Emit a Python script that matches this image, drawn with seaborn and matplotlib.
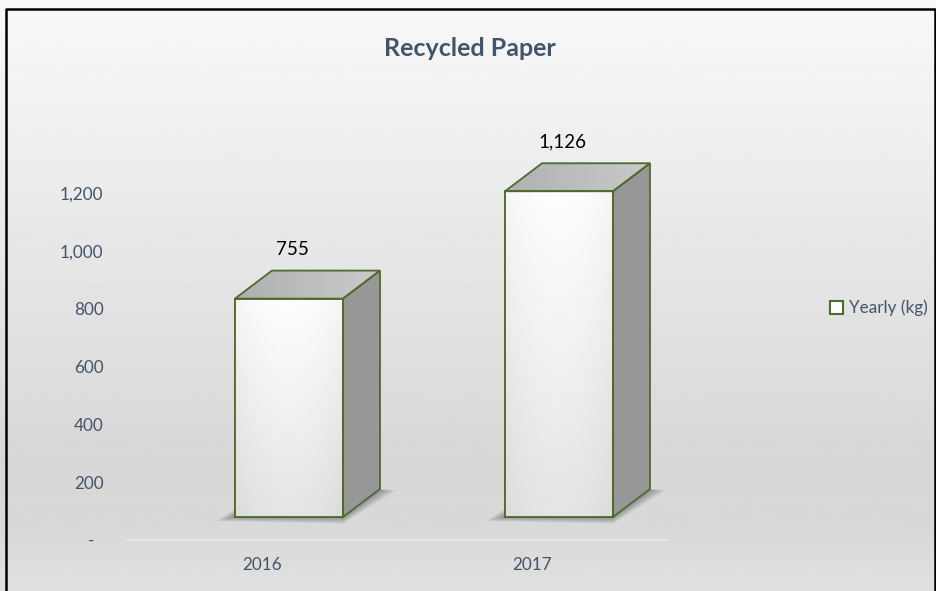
import numpy as np
import pandas as pd
import matplotlib
matplotlib.use("Agg")
import matplotlib.pyplot as plt
import matplotlib.transforms as mtransforms
from matplotlib.patches import Polygon, Patch
from matplotlib.ticker import FuncFormatter
import seaborn as sns

# chart data
years = ["2016", "2017"]
weights = [755, 1126]
series_name = "Yearly (kg)"
chart_title = "Recycled Paper"
y_ticks = [0, 200, 400, 600, 800, 1000, 1200]

W, H, DPI = 937, 591, 100
text_col = "#44546a"
edge_col = "#4d6b2c"
depth = (37, 28)        # 3D depth offset of the columns, in pixels
front_shift = (27, 23)  # front face sits in front of the back wall

sns.set_theme(style="white")
plt.rcParams["font.family"] = ["Lato", "DejaVu Sans"]

fig = plt.figure(figsize=(W / DPI, H / DPI), dpi=DPI)

# --- background gradient over whole chart area
bg = fig.add_axes([0, 0, 1, 1], zorder=0)
rows = np.linspace(0, 1, 300)
shade = np.interp(rows, [0, 0.78, 0.9, 1.0], [0.975, 0.845, 0.85, 0.88])
bg.imshow(np.tile(shade[:, None], (1, 2)), cmap="gray", vmin=0, vmax=1,
          aspect="auto", extent=[0, 1, 0, 1])
bg.axis("off")

# --- main axes (value scale + category axis)
ax = fig.add_axes([127 / W, 51 / H, 540 / W, 405 / H], zorder=1)
ax.patch.set_alpha(0)
df = pd.DataFrame({"Year": years, "Weight": weights})
sns.barplot(data=df, x="Year", y="Weight", ax=ax, width=0.4, color="white",
            edgecolor=edge_col, linewidth=1.2, saturation=1)
ax.set_xlim(-0.5, 1.5)
ax.set_ylim(0, 1400)
ax.set_xlabel("")
ax.set_ylabel("")
ax.set_yticks(y_ticks)
ax.yaxis.set_major_formatter(FuncFormatter(lambda v, p: "-  " if v == 0 else f"{v:,.0f}"))
ax.tick_params(axis="y", length=0, pad=17, labelsize=12.3, labelcolor=text_col)
ax.tick_params(axis="x", length=0, pad=12, labelsize=12.3, labelcolor=text_col)
for side in ["left", "right", "top"]:
    ax.spines[side].set_visible(False)
ax.spines["bottom"].set_color("#e4e6ee")
ax.spines["bottom"].set_linewidth(1.4)

# push the column front faces forward (down/right) like Excel's 3D view
offset = mtransforms.ScaledTranslation(front_shift[0] / DPI, front_shift[1] / DPI,
                                       fig.dpi_scale_trans)
for p in ax.patches:
    p.set_transform(ax.transData + offset)

# data labels
for i, v in enumerate(weights):
    ax.annotate(f"{v:,}", xy=(i, v), xytext=(30 * 0.72, 72 * 0.72),
                textcoords="offset points", ha="center", va="center",
                fontsize=13.5, color="black")

# --- overlay in pixel coordinates for the 3D faces
fig.canvas.draw()
renderer = fig.canvas.get_renderer()
ov = fig.add_axes([0, 0, 1, 1], zorder=3)
ov.patch.set_alpha(0)
ov.axis("off")

dx, dy = depth
for p in ax.patches:
    bb = p.get_window_extent(renderer)
    x0, y0, x1, y1 = bb.x0, bb.y0, bb.x1, bb.y1

    # soft shadow around the base
    for k in range(6, 0, -1):
        e = k * 2.2
        base = [(x0 - e * 1.4, y0 - e * 0.3), (x1, y0 - e * 0.5),
                (x1 + dx + e * 1.2, y0 + dy - e * 0.1), (x0 + dx, y0 + dy + e * 0.3)]
        ov.add_patch(Polygon(base, closed=True, facecolor="black",
                             edgecolor="none", alpha=0.06, zorder=1))

    # front face with soft gradient
    gx = np.linspace(-1, 1, 60)
    gy = np.linspace(0, 1, 120)[:, None]
    front = 0.995 - 0.035 * gx[None, :] ** 2 - 0.1 * gy
    ov.imshow(front, cmap="gray", vmin=0, vmax=1, aspect="auto",
              extent=[x0, x1, y0, y1], zorder=2, interpolation="bilinear")
    ov.add_patch(Polygon([(x0, y0), (x1, y0), (x1, y1), (x0, y1)], closed=True,
                         fill=False, edgecolor=edge_col, linewidth=1.3, zorder=5))

    # top face
    top_pts = [(x0, y1), (x1, y1), (x1 + dx, y1 + dy), (x0 + dx, y1 + dy)]
    top_poly = Polygon(top_pts, closed=True, facecolor="none", edgecolor="none")
    ov.add_patch(top_poly)
    tx = np.linspace(0, 1, 60)
    top_grad = np.tile(0.69 + 0.1 * tx, (20, 1))
    im = ov.imshow(top_grad, cmap="gray", vmin=0, vmax=1, aspect="auto",
                   extent=[x0, x1 + dx, y1, y1 + dy], zorder=3,
                   interpolation="bilinear")
    im.set_clip_path(top_poly)
    ov.add_patch(Polygon(top_pts, closed=True, fill=False, edgecolor=edge_col,
                         linewidth=1.3, zorder=5))

    # side face
    side_pts = [(x1, y0), (x1 + dx, y0 + dy), (x1 + dx, y1 + dy), (x1, y1)]
    ov.add_patch(Polygon(side_pts, closed=True, facecolor="#979797",
                         edgecolor=edge_col, linewidth=1.3, zorder=4))

ov.set_xlim(0, W)
ov.set_ylim(0, H)

# outer frame (left, top, right)
ov.plot([6, 6, 935, 935], [-5, H - 9, H - 9, -5], color="black", lw=1.8,
        clip_on=False, zorder=10)

# title
fig.text(470 / W, 1 - 48 / H, chart_title, ha="center", va="center",
         fontsize=18, fontweight="bold", color=text_col)

# legend
fig.legend(handles=[Patch(facecolor="white", edgecolor=edge_col, linewidth=1.5)],
           labels=[series_name], loc="center left",
           bbox_to_anchor=(830 / W, 1 - 308 / H), frameon=False,
           handlelength=0.75, handleheight=0.75, handletextpad=0.35,
           borderpad=0, borderaxespad=0, fontsize=12.3, labelcolor=text_col)

fig.savefig("out.png", dpi=DPI)
